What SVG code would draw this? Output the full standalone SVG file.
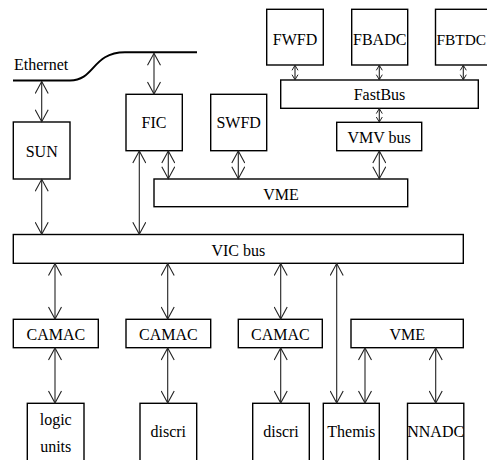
<svg xmlns="http://www.w3.org/2000/svg" width="487" height="460" viewBox="0 0 487 460">
<defs>
<style>
rect{fill:#fff;stroke:#000;stroke-width:1.4}
text{font-family:"Liberation Serif","Times New Roman",serif;font-size:16px;fill:#000;text-anchor:middle}
.c line{stroke:#222;stroke-width:1.1;marker-start:url(#a);marker-end:url(#a)}
.c line.s{marker-start:url(#b);marker-end:url(#b)}
</style>
<marker id="a" markerUnits="userSpaceOnUse" viewBox="-13 -7 14 14" refX="0" refY="0" markerWidth="14" markerHeight="14" orient="auto-start-reverse">
<path d="M-12,-6.5 L0,0 L-12,6.5" fill="none" stroke="#222" stroke-width="1.1"/>
</marker>
<marker id="b" markerUnits="userSpaceOnUse" viewBox="-6 -4 7 8" refX="0" refY="0" markerWidth="7" markerHeight="8" orient="auto-start-reverse">
<path d="M-5,-3 L0,0 L-5,3" fill="none" stroke="#222" stroke-width="1"/>
</marker>
</defs>
<g id="ethernet">
<path d="M13,80.5 L70,80.5 C95,80.5 92,52.3 125,52.3 L197,52.3" fill="none" stroke="#000" stroke-width="2"/>
<text x="14" y="70" style="text-anchor:start">Ethernet</text>
</g>
<g id="SUN"><rect x="13.3" y="122" width="56.7" height="57"/><text x="41.7" y="156.5">SUN</text></g>
<g id="FIC"><rect x="126" y="94.3" width="56.3" height="56.4"/><text x="154" y="128.3">FIC</text></g>
<g id="SWFD"><rect x="210.7" y="94.3" width="56" height="56.4"/><text x="238.7" y="128.3">SWFD</text></g>
<g id="FWFD"><rect x="266.7" y="9.3" width="56.6" height="55.7"/><text x="295" y="45">FWFD</text></g>
<g id="FBADC"><rect x="351.7" y="9.3" width="56" height="55.7"/><text x="379.7" y="45">FBADC</text></g>
<g id="FBTDC"><rect x="435.5" y="9.3" width="57" height="55.7"/><text x="436.5" y="45" style="text-anchor:start;font-size:15.4px">FBTDC</text></g>
<g id="FastBus"><rect x="280.7" y="80" width="197.6" height="28.3"/><text x="379.5" y="100">FastBus</text></g>
<g id="VMVbus"><rect x="336.7" y="122.3" width="85" height="28.4"/><text x="379.2" y="143">VMV bus</text></g>
<g id="VME1"><rect x="154" y="179" width="253.7" height="27.7"/><text x="281" y="200">VME</text></g>
<g id="VICbus"><rect x="13.3" y="234.5" width="450" height="28.8"/><text x="238.3" y="255.5">VIC bus</text></g>
<g id="CAMAC1"><rect x="13.3" y="319.3" width="85" height="28.4"/><text x="55.8" y="340">CAMAC</text></g>
<g id="CAMAC2"><rect x="126" y="319.3" width="84.7" height="28.4"/><text x="168.3" y="340">CAMAC</text></g>
<g id="CAMAC3"><rect x="238.3" y="319.3" width="84" height="28.4"/><text x="280.3" y="340">CAMAC</text></g>
<g id="VME2"><rect x="351" y="319.3" width="112.3" height="28.4"/><text x="407.2" y="340">VME</text></g>
<g id="logicunits"><rect x="27.3" y="403.3" width="56.7" height="62"/><text x="55.7" y="425">logic</text><text x="55.7" y="451.7">units</text></g>
<g id="discri1"><rect x="140" y="403.3" width="56.7" height="62"/><text x="168.3" y="436.7">discri</text></g>
<g id="discri2"><rect x="252.7" y="403.3" width="56.6" height="62"/><text x="281" y="436.7">discri</text></g>
<g id="Themis"><rect x="323.3" y="403.3" width="56" height="62"/><text x="351.3" y="436.7">Themis</text></g>
<g id="NNADC"><rect x="407.5" y="403.3" width="56.3" height="62"/><text x="435.7" y="436.7">NNADC</text></g>
<g id="connectors" class="c">
<line x1="41.7" y1="81.5" x2="41.7" y2="121.7"/>
<line x1="41.7" y1="179.3" x2="41.7" y2="234.2"/>
<line x1="154" y1="53.3" x2="154" y2="94"/>
<line x1="139.3" y1="151" x2="139.3" y2="234.2"/>
<line x1="168.3" y1="151" x2="168.3" y2="178.7"/>
<line x1="238.3" y1="151" x2="238.3" y2="178.7"/>
<line x1="379.3" y1="151" x2="379.3" y2="178.7"/>
<line class="s" x1="295" y1="65.3" x2="295" y2="79.7"/>
<line class="s" x1="379.3" y1="65.3" x2="379.3" y2="79.7"/>
<line class="s" x1="463.3" y1="65.3" x2="463.3" y2="79.7"/>
<line class="s" x1="379.3" y1="108.6" x2="379.3" y2="122"/>
<line x1="55" y1="263.6" x2="55" y2="319"/>
<line x1="167.7" y1="263.6" x2="167.7" y2="319"/>
<line x1="280.7" y1="263.6" x2="280.7" y2="319"/>
<line x1="336.7" y1="263.6" x2="336.7" y2="403"/>
<line x1="55" y1="348" x2="55" y2="403"/>
<line x1="167.7" y1="348" x2="167.7" y2="403"/>
<line x1="280.7" y1="348" x2="280.7" y2="403"/>
<line x1="365" y1="348" x2="365" y2="403"/>
<line x1="435.7" y1="348" x2="435.7" y2="403"/>
</g>
</svg>
